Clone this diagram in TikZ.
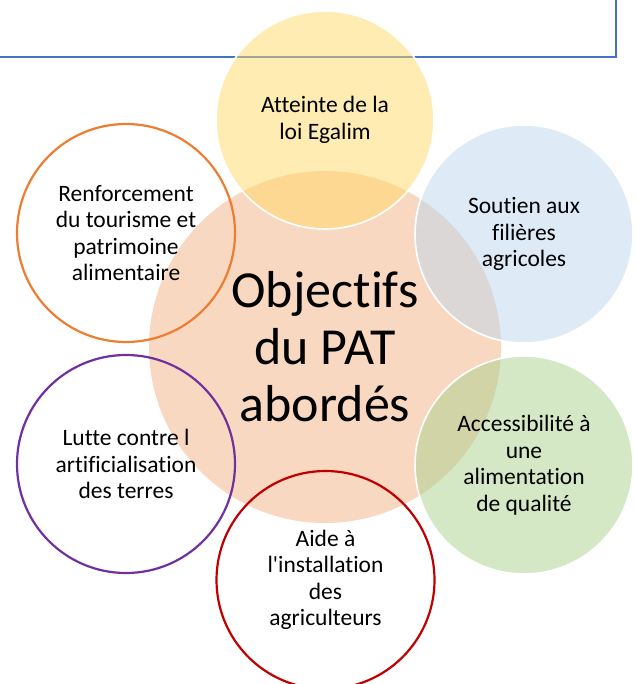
\documentclass[tikz,border=0pt]{standalone}
\usepackage{fontspec}
\newfontfamily\calib{Carlito}[Ligatures=CommonOff]
\definecolor{lineblue}{HTML}{4472C4}
\definecolor{peach}{HTML}{F4B183}
\definecolor{yel}{HTML}{FFD966}
\definecolor{lblue}{HTML}{BDD7EE}
\definecolor{lgreen}{HTML}{A9D18E}
\definecolor{ringorange}{HTML}{ED7D31}
\definecolor{ringpurple}{HTML}{7030A0}
\definecolor{ringred}{HTML}{C00000}
\tikzset{
  sat/.style={circle, minimum size=218pt, inner sep=0pt, align=center,
    font=\calib\fontsize{23.5}{26.5}\selectfont, text=black},
  filled/.style={sat, fill=#1, fill opacity=0.5, text opacity=1, draw=white, draw opacity=1, line width=1.6pt},
  ring/.style={sat, draw=#1, line width=2.2pt, minimum size=218pt},
}
\begin{document}
\begin{tikzpicture}[x=1pt,y=-1pt]
\useasboundingbox (0,0) rectangle (636,684);
\coordinate (l0) at (0,57);
\coordinate (lc) at (616,57);
\coordinate (l1) at (616,0);
\draw[lineblue, line width=2.8pt] (l0) -- (lc) -- (l1);
\node[circle, minimum size=352pt, inner sep=0pt, fill=peach, fill opacity=0.5, text opacity=1, align=center,
  font=\calib\fontsize{52}{57}\selectfont] (center) at (325,347) {Objectifs\\du PAT\\abordés};
\node[filled=yel] (egalim) at (325,120) {Atteinte de la\\loi Egalim};
\node[filled=lblue] (filieres) at (524,234) {Soutien aux\\filières\\agricoles};
\node[filled=lgreen] (access) at (524,465) {Accessibilité à\\une\\alimentation\\de qualité};
\node[ring=ringred] (aide) at (325.5,580) {Aide à\\l'installation\\des\\agriculteurs};
\node[ring=ringpurple] (lutte) at (126,464) {Lutte contre l\\artificialisation\\des terres};
\node[ring=ringorange] (tourisme) at (126,233) {Renforcement\\du tourisme et\\patrimoine\\alimentaire};
\end{tikzpicture}
\end{document}
